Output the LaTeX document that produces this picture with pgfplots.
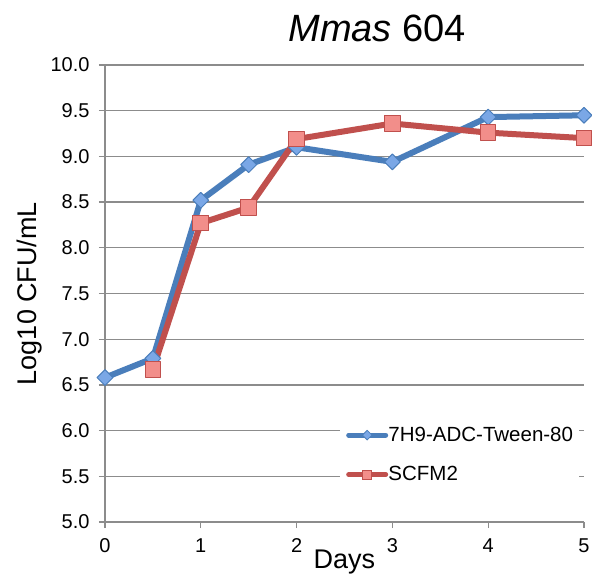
\documentclass[border=0pt]{standalone}
\usepackage{pgfplots}
\pgfplotsset{compat=1.18}
\usepackage{fontspec}
\setmainfont{Liberation Sans}
\definecolor{bl}{HTML}{4A7EBB}
\definecolor{blf}{HTML}{7AA7E6}
\definecolor{rd}{HTML}{C0504D}
\definecolor{rdf}{HTML}{F28E8A}
\definecolor{gr}{HTML}{8C8C8C}
\begin{document}
\begin{tikzpicture}[x=1pt,y=1pt]
\useasboundingbox (-105,-57) rectangle (487,522);
\begin{axis}[
  at={(0,0)}, anchor=south west,
  scale only axis, width=479pt, height=457pt,
  xmin=0, xmax=5, ymin=5, ymax=10,
  xtick={0,1,2,3,4,5}, ytick={5,5.5,...,10},
  yticklabel style={/pgf/number format/.cd, fixed, fixed zerofill, precision=1, /tikz/.cd, xshift=-6pt},
  xticklabel style={yshift=-7pt},
  /pgf/number format/assume math mode=true,
  axis lines*=left,
  axis line style={gr, line width=1.3pt},
  tick style={gr, line width=1.3pt},
  major tick length=6pt, tick align=outside,
  ymajorgrids, grid style={gr, line width=1.3pt},
  ticklabel style={font=\fontsize{20}{24}\selectfont, text=black},
  title={\textit{Mmas} 604},
  title style={at={(axis description cs:0.568,1)}, anchor=base, yshift=18pt, font=\fontsize{38}{44}\selectfont},
  xlabel={Days},
  xlabel style={at={(axis description cs:0.5,0)}, anchor=base, yshift=-46pt, font=\fontsize{27}{32}\selectfont},
  ylabel={Log10 CFU/mL},
  ylabel style={at={(axis description cs:-0.142,0.5)}, anchor=base, font=\fontsize{27}{32}\selectfont},
  clip=false,
  legend style={at={(rel axis cs:0.4906,0.226)}, anchor=north west, draw=none, fill=white,
    font=\fontsize{20.5}{24}\selectfont, row sep=23pt, inner xsep=6pt, inner ysep=8pt,
    nodes={inner sep=0.3pt}},
  legend cell align=left,
  legend image code/.code={
    \draw[mark repeat=2,mark phase=2,#1] plot coordinates {(0pt,0pt) (18.5pt,0pt) (37pt,0pt)};
  },
]
\addplot[bl, line width=6pt, line cap=round, line join=round, mark=square*, mark size=5.6pt,
  mark options={rotate=45, fill=blf, draw=bl, line width=1pt}, forget plot]
  coordinates {(0,6.58) (0.5,6.79) (1,8.52) (1.5,8.91) (2,9.1) (3,8.94) (4,9.43) (5,9.45)};
\addplot[rd, line width=6pt, line cap=round, line join=round, mark=square*, mark size=7.8pt,
  mark options={fill=rdf, draw=rd, line width=1pt}, forget plot]
  coordinates {(0.5,6.67) (1,8.27) (1.5,8.44) (2,9.19) (3,9.36) (4,9.26) (5,9.2)};
\addlegendimage{bl, line width=5pt, line cap=round, mark=square*, mark size=3.4pt,
  mark options={rotate=45, fill=blf, draw=bl, line width=0.8pt}}
\addlegendentry{7H9-ADC-Tween-80}
\addlegendimage{rd, line width=5pt, line cap=round, mark=square*, mark size=4.5pt,
  mark options={fill=rdf, draw=rd, line width=0.8pt}}
\addlegendentry{SCFM2}
\end{axis}
\end{tikzpicture}
\end{document}
